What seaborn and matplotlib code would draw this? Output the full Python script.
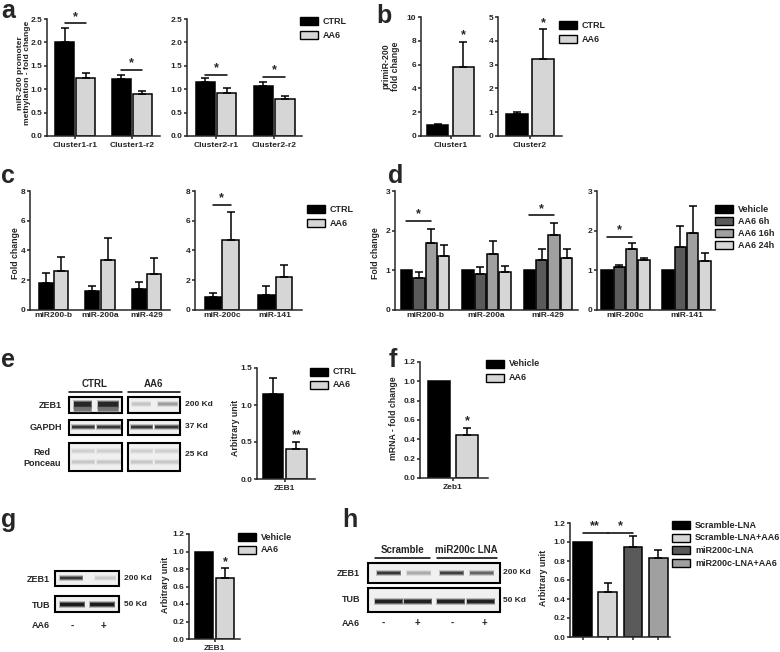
import matplotlib.pyplot as plt
import seaborn as sns
import pandas as pd
from matplotlib.patches import Rectangle

# ---- data ----
CTRL_AA6 = ["CTRL", "AA6"]
VEH_AA6 = ["Vehicle", "AA6"]
TIMES = ["Vehicle", "AA6 6h", "AA6 16h", "AA6 24h"]
LNA = ["Scramble-LNA", "Scramble-LNA+AA6", "miR200c-LNA", "miR200c-LNA+AA6"]

# a: promoter methylation
a_cats1 = ["Cluster1-r1", "Cluster1-r2"]
a_cats2 = ["Cluster2-r1", "Cluster2-r2"]
a_vals1 = [[2.00, 1.21], [1.23, 0.90]]
a_errs1 = [[0.30, 0.09], [0.12, 0.07]]
a_vals2 = [[1.16, 1.07], [0.91, 0.79]]
a_errs2 = [[0.08, 0.09], [0.12, 0.07]]
a_sig1 = [2.41, 1.41]
a_sig2 = [1.31, 1.26]

# b: primiR-200
b_cats1 = ["Cluster1"]
b_cats2 = ["Cluster2"]
b_vals1 = [[0.92], [5.80]]
b_errs1 = [[0.13], [2.10]]
b_vals2 = [[0.92], [3.22]]
b_errs2 = [[0.07], [1.27]]

# c: mature miRNAs
c_cats1 = ["miR200-b", "miR-200a", "miR-429"]
c_cats2 = ["miR-200c", "miR-141"]
c_vals1 = [[1.83, 1.25, 1.43], [2.61, 3.35, 2.39]]
c_errs1 = [[0.63, 0.36, 0.45], [0.92, 1.52, 1.12]]
c_vals2 = [[0.89, 0.98], [4.69, 2.21]]
c_errs2 = [[0.27, 0.63], [1.90, 0.79]]
c_sig2 = 7.08

# d: time course
d_vals1 = [[1.0, 1.0, 1.0], [0.80, 0.92, 1.26], [1.70, 1.40, 1.89], [1.36, 0.95, 1.32]]
d_errs1 = [[0, 0, 0], [0.15, 0.17, 0.28], [0.34, 0.34, 0.31], [0.27, 0.16, 0.21]]
d_vals2 = [[1.0, 1.0], [1.09, 1.58], [1.54, 1.93], [1.26, 1.24]]
d_errs2 = [[0, 0], [0.04, 0.53], [0.15, 0.69], [0.06, 0.20]]
d_sig1 = [2.25, 2.39]
d_sig2 = 1.84

# e, f, g, h
e_vals = [[1.15], [0.40]]
e_errs = [[0.21], [0.10]]
f_vals = [[1.0], [0.44]]
f_errs = [[0], [0.08]]
g_vals = [[1.0], [0.70]]
g_errs = [[0], [0.11]]
h_vals = [1.0, 0.47, 0.95, 0.83]
h_errs = [0, 0.10, 0.11, 0.09]
h_sig = 1.10

BLACK = "#000000"
LIGHT = "#d6d6d6"
DARK = "#5a5a5a"
MID = "#a0a0a0"
two_cols = [BLACK, LIGHT]
time_cols = [BLACK, DARK, MID, LIGHT]
lna_cols = [BLACK, LIGHT, DARK, MID]

# ---- figure ----
sns.set_style("ticks")
plt.rcParams["font.family"] = ["Liberation Sans", "DejaVu Sans"]
plt.rcParams["font.weight"] = "bold"
plt.rcParams["axes.labelweight"] = "bold"

W, H = 780, 652
fig = plt.figure(figsize=(W / 100, H / 100), dpi=100)

canvas = fig.add_axes([0, 0, 1, 1])
canvas.set_xlim(0, W)
canvas.set_ylim(H, 0)
canvas.axis("off")


def px_axes(x0, y0, x1, y1):
    return fig.add_axes([x0 / W, 1 - y1 / H, (x1 - x0) / W, (y1 - y0) / H])


def bar_panel(box, cats, groups, vals, errs, colors, ymax, yticks, fmt,
              xlim, width, gap, xticks=True):
    ax = px_axes(*box)
    rows = []
    for g, gv in zip(groups, vals):
        for c, v in zip(cats, gv):
            rows.append((c, g, v))
    df = pd.DataFrame(rows, columns=["cat", "grp", "val"])
    sns.barplot(data=df, x="cat", y="val", hue="grp", order=cats,
                hue_order=groups, palette=colors, saturation=1,
                edgecolor="black", linewidth=1.1, errorbar=None,
                width=width, gap=gap, legend=False, ax=ax)
    for cont, ge in zip(ax.containers, errs):
        for bar, ev in zip(cont, ge):
            if ev > 0:
                ax.errorbar(bar.get_x() + bar.get_width() / 2, bar.get_height(),
                            yerr=[[0], [ev]], fmt="none", ecolor="black",
                            elinewidth=1.1, capsize=2.6, capthick=1.1)
    style_ax(ax, ymax, yticks, fmt, xlim, xticks)
    return ax


def style_ax(ax, ymax, yticks, fmt, xlim, xticks):
    ax.set_ylim(0, ymax)
    ax.set_xlim(*xlim)
    ax.set_yticks(yticks)
    ax.set_yticklabels([fmt.format(t) for t in yticks])
    ax.set_xlabel("")
    ax.set_ylabel("")
    ax.set_facecolor("none")
    sns.despine(ax=ax)
    for s in ["left", "bottom"]:
        ax.spines[s].set_linewidth(1.1)
    ax.tick_params(axis="y", length=2.5, width=1.1, pad=1, labelsize=6)
    ax.tick_params(axis="x", length=2.5 if xticks else 0, width=1.1,
                   pad=1.5, labelsize=6)


def bar_center(bar):
    return bar.get_x() + bar.get_width() / 2


def sig(ax, b1, b2, y, txt):
    x1, x2 = bar_center(b1), bar_center(b2)
    ax.plot([x1, x2], [y, y], color="black", lw=1.1, clip_on=False)
    ax.annotate(txt, ((x1 + x2) / 2, y), xytext=(0, 0.3),
                textcoords="offset points", ha="center", va="bottom",
                fontsize=9, annotation_clip=False)


def star_over(ax, bar, err, txt):
    ax.annotate(txt, (bar_center(bar), bar.get_height() + err), xytext=(0, 0.3),
                textcoords="offset points", ha="center", va="bottom",
                fontsize=9, annotation_clip=False)


def legend(x, y, dy, labels, colors):
    for i, (lab, col) in enumerate(zip(labels, colors)):
        yc = y + i * dy
        canvas.add_patch(Rectangle((x, yc - 4), 18, 8, facecolor=col,
                                   edgecolor="black", lw=1.0))
        canvas.text(x + 23, yc, lab, ha="left", va="center", fontsize=6.5)


def ylab(x, y, txt, fs=6.3):
    canvas.text(x, y, txt, rotation=90, ha="center", va="center",
                fontsize=fs, multialignment="center", linespacing=1.05)


def letter(x, y, s):
    canvas.text(x, y, s, ha="left", va="baseline", fontsize=18)


def blot_box(x0, y0, x1, y1):
    canvas.add_patch(Rectangle((x0, y0), x1 - x0, y1 - y0, facecolor="#f0f0f0",
                               edgecolor="black", lw=1.5, zorder=2))


def band(x0, x1, yc, h, col):
    for k, al in zip([2.0, 1.0, 0.0], [0.25, 0.5, 0.9]):
        canvas.add_patch(Rectangle((x0 - k * 0.5, yc - h / 2 - k), x1 - x0 + k,
                                   h + 2 * k, facecolor=col, edgecolor="none",
                                   alpha=al, zorder=3))


def ctext(x, y, s, ha="center", fs=6.5):
    canvas.text(x, y, s, ha=ha, va="center", fontsize=fs)


# ---- a ----
ax = bar_panel((47, 19, 160, 136), a_cats1, CTRL_AA6, a_vals1, a_errs1, two_cols,
               2.5, [0, 0.5, 1.0, 1.5, 2.0, 2.5], "{:.1f}", (-0.5, 1.5), 0.74, 0.1)
for i, y in enumerate(a_sig1):
    sig(ax, ax.containers[0][i], ax.containers[1][i], y, "*")
ax = bar_panel((187, 19, 302, 136), a_cats2, CTRL_AA6, a_vals2, a_errs2, two_cols,
               2.5, [0, 0.5, 1.0, 1.5, 2.0, 2.5], "{:.1f}", (-0.5, 1.48), 0.74, 0.1)
for i, y in enumerate(a_sig2):
    sig(ax, ax.containers[0][i], ax.containers[1][i], y, "*")
legend(300, 21, 14, CTRL_AA6, two_cols)
letter(1, 18, "a")
ylab(24, 73, "miR-200 promoter\nmethylation - fold change", fs=6.1)

# ---- b ----
ax = bar_panel((421, 17, 480, 136), b_cats1, CTRL_AA6, b_vals1, b_errs1, two_cols,
               10, [0, 2, 4, 6, 8, 10], "{:g}", (-0.5, 0.5), 0.88, 0.18)
star_over(ax, ax.containers[1][0], b_errs1[1][0], "*")
ax = bar_panel((498, 17, 562, 136), b_cats2, CTRL_AA6, b_vals2, b_errs2, two_cols,
               5, [0, 1, 2, 3, 4, 5], "{:g}", (-0.5, 0.5), 0.82, 0.18)
star_over(ax, ax.containers[1][0], b_errs2[1][0], "*")
legend(559, 25, 14, CTRL_AA6, two_cols)
letter(376, 23, "b")
ylab(391, 66, "primiR-200\nfold change")

# ---- c ----
ax = bar_panel((30, 191, 170, 310), c_cats1, CTRL_AA6, c_vals1, c_errs1, two_cols,
               8, [0, 2, 4, 6, 8], "{:g}", (-0.5, 2.5), 0.66, 0.08, xticks=False)
ax = bar_panel((195, 191, 302, 310), c_cats2, CTRL_AA6, c_vals2, c_errs2, two_cols,
               8, [0, 2, 4, 6, 8], "{:g}", (-0.5, 1.5), 0.66, 0.08, xticks=False)
sig(ax, ax.containers[0][0], ax.containers[1][0], c_sig2, "*")
legend(307, 209, 14, CTRL_AA6, two_cols)
letter(1, 183, "c")
ylab(16, 253, "Fold change")

# ---- d ----
ax = bar_panel((395, 191, 578, 310), c_cats1, TIMES, d_vals1, d_errs1, time_cols,
               3, [0, 1, 2, 3], "{:g}", (-0.49, 2.49), 0.81, 0.08, xticks=False)
sig(ax, ax.containers[0][0], ax.containers[2][0], d_sig1[0], "*")
sig(ax, ax.containers[0][2], ax.containers[2][2], d_sig1[1], "*")
ax = bar_panel((597, 191, 715, 310), c_cats2, TIMES, d_vals2, d_errs2, time_cols,
               3, [0, 1, 2, 3], "{:g}", (-0.47, 1.47), 0.81, 0.08, xticks=False)
sig(ax, ax.containers[0][0], ax.containers[2][0], d_sig2, "*")
legend(715, 209, 12, TIMES, time_cols)
letter(388, 183, "d")
ylab(375, 253, "Fold change")

# ---- e ----
ax = bar_panel((257, 368, 315, 479), ["ZEB1"], CTRL_AA6, e_vals, e_errs, two_cols,
               1.5, [0, 0.5, 1.0, 1.5], "{:.1f}", (-0.48, 0.52), 0.8, 0.13)
star_over(ax, ax.containers[1][0], e_errs[1][0], "**")
legend(310, 372, 12.5, CTRL_AA6, two_cols)
letter(1, 367, "e")
ylab(235, 428, "Arbitrary unit")

# e blot
canvas.plot([69, 122], [392, 392], color="black", lw=1.1)
canvas.plot([128, 180], [392, 392], color="black", lw=1.1)
ctext(95, 384, "CTRL", fs=7)
ctext(154, 384, "AA6", fs=7)
for bx in [(69, 122), (128, 180)]:
    blot_box(bx[0], 397, bx[1], 413)
    blot_box(bx[0], 420, bx[1], 435)
    blot_box(bx[0], 443, bx[1], 471)
band(74, 91, 404, 5, "#202020")
band(98, 118, 404, 5, "#202020")
band(74, 91, 409, 3, "#707070")
band(98, 118, 409, 3, "#707070")
band(132, 150, 404, 2, "#c4c4c4")
band(158, 177, 404, 1.5, "#9a9a9a")
for lx in [(72, 94), (97, 120), (131, 152), (155, 178)]:
    band(lx[0], lx[1], 427, 2, "#303030")
    band(lx[0], lx[1], 451, 2, "#cfcfcf")
    band(lx[0], lx[1], 462, 2.5, "#c6c6c6")
ctext(62, 405, "ZEB1", ha="right")
ctext(62, 427, "GAPDH", ha="right")
canvas.text(42, 458, "Red\nPonceau", ha="center", va="center", fontsize=6.5,
            linespacing=1.3)
ctext(185, 405, "200 Kd", ha="left", fs=6)
ctext(185, 427, "37 Kd", ha="left", fs=6)
ctext(185, 455, "25 Kd", ha="left", fs=6)

# ---- f ----
ax = bar_panel((420, 362, 488, 478), ["Zeb1"], VEH_AA6, f_vals, f_errs, two_cols,
               1.2, [0, 0.2, 0.4, 0.6, 0.8, 1.0, 1.2], "{:.1f}", (-0.485, 0.515), 0.82, 0.21)
star_over(ax, ax.containers[1][0], f_errs[1][0], "*")
legend(486, 364, 14, VEH_AA6, two_cols)
letter(389, 367, "f")
ylab(393, 418, "mRNA - fold change")

# ---- g ----
ax = bar_panel((189, 534, 240, 639), ["ZEB1"], VEH_AA6, g_vals, g_errs, two_cols,
               1.2, [0, 0.2, 0.4, 0.6, 0.8, 1.0, 1.2], "{:.1f}", (-0.52, 0.52), 0.88, 0.16)
star_over(ax, ax.containers[1][0], g_errs[1][0], "*")
legend(238, 537, 13, VEH_AA6, two_cols)
letter(1, 527, "g")
ylab(166, 585, "Arbitrary unit")

# g blot
blot_box(55, 571, 119, 586)
blot_box(55, 596, 119, 612)
band(60, 82, 578, 2, "#303030")
band(95, 115, 578, 1.2, "#c8c8c8")
band(60, 84, 604, 3, "#151515")
band(90, 114, 604, 3, "#151515")
ctext(50, 579, "ZEB1", ha="right")
ctext(50, 605, "TUB", ha="right")
ctext(50, 626, "AA6", ha="right")
ctext(72, 626, "-", fs=7)
ctext(103, 626, "+", fs=7)
ctext(124, 579, "200 Kd", ha="left", fs=6)
ctext(124, 605, "50 Kd", ha="left", fs=6)

# ---- h ----
ax = px_axes(570, 523, 670, 637)
hdf = pd.DataFrame({"cond": LNA, "val": h_vals})
sns.barplot(data=hdf, x="cond", y="val", hue="cond", order=LNA, hue_order=LNA,
            palette=lna_cols, saturation=1, edgecolor="black", linewidth=1.1,
            errorbar=None, width=0.75, dodge=False, legend=False, ax=ax)
hbars = [cont[0] for cont in ax.containers]
for bar, ev in zip(hbars, h_errs):
    if ev > 0:
        ax.errorbar(bar_center(bar), bar.get_height(), yerr=[[0], [ev]], fmt="none",
                    ecolor="black", elinewidth=1.1, capsize=2.6, capthick=1.1)
style_ax(ax, 1.2, [0, 0.2, 0.4, 0.6, 0.8, 1.0, 1.2], "{:.1f}", (-0.5, 3.47), True)
ax.set_xticklabels([])
sig(ax, hbars[0], hbars[1], h_sig, "**")
sig(ax, hbars[1], hbars[2], h_sig, "*")
legend(672, 525, 12.7, LNA, lna_cols)
letter(342, 527, "h")
ylab(543, 578, "Arbitrary unit")

# h blot
canvas.plot([375, 430], [558, 558], color="black", lw=1.1)
canvas.plot([437, 497], [558, 558], color="black", lw=1.1)
ctext(403, 550, "Scramble", fs=7)
ctext(466, 550, "miR200c LNA", fs=7)
blot_box(368, 563, 500, 583)
blot_box(368, 588, 500, 612)
band(377, 400, 573, 2.5, "#303030")
band(407, 430, 573, 1.5, "#a8a8a8")
band(440, 463, 573, 2.5, "#3a3a3a")
band(470, 493, 573, 2, "#606060")
for lx in [(375, 402), (404, 431), (437, 464), (467, 494)]:
    band(lx[0], lx[1], 601, 3, "#1a1a1a")
ctext(360, 573, "ZEB1", ha="right")
ctext(360, 600, "TUB", ha="right")
ctext(360, 623, "AA6", ha="right")
for x, s in zip([383, 417, 452, 484], ["-", "+", "-", "+"]):
    ctext(x, 623, s, fs=7)
ctext(503, 573, "200 Kd", ha="left", fs=6)
ctext(503, 600, "50 Kd", ha="left", fs=6)

fig.savefig("out.png", dpi=100)
